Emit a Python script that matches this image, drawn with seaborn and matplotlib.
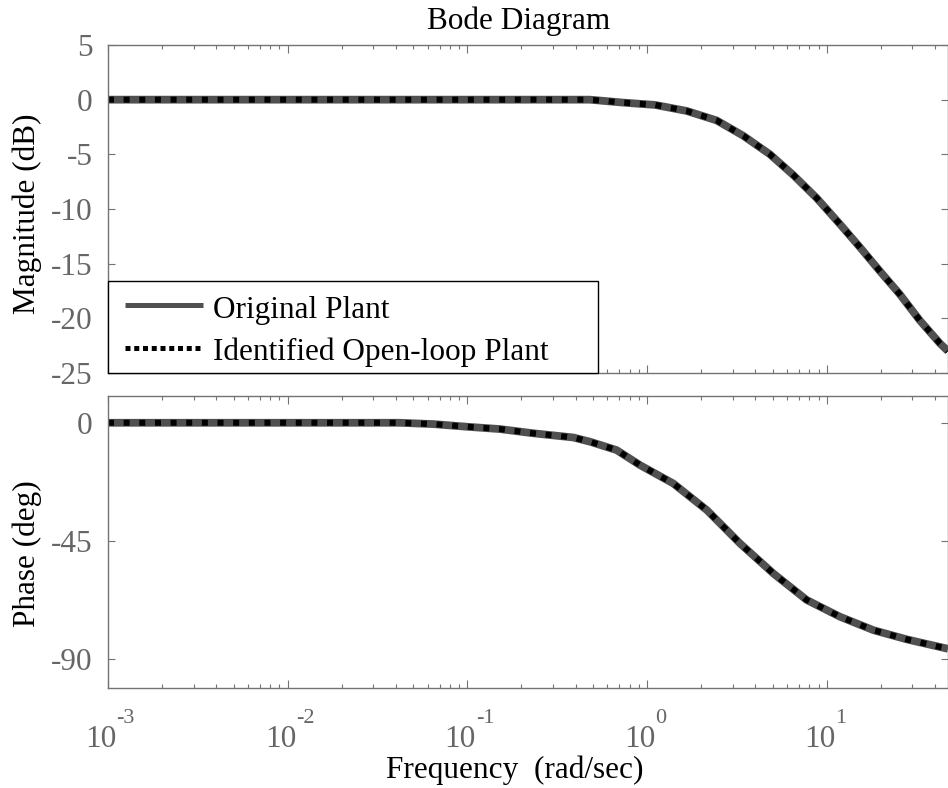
import numpy as np
import pandas as pd
import matplotlib
matplotlib.use("Agg")
import matplotlib.pyplot as plt
import seaborn as sns
from matplotlib.ticker import LogLocator, NullFormatter, FixedLocator, FixedFormatter
from matplotlib.transforms import ScaledTranslation
from matplotlib.patches import Rectangle
from matplotlib.lines import Line2D

# ---- frequency response samples (rad/sec, dB, deg) ----
mag_freq = [0.001, 0.01, 0.1, 0.48, 0.738, 1.107, 1.66, 2.44, 3.43, 4.83,
            6.52, 8.79, 11.86, 15.3, 19.8, 25.5, 33.0, 42.7, 47.3]
mag_original = [0, 0, 0, 0, -0.27, -0.48, -1.03, -1.9, -3.3, -5.0,
                -6.9, -9.0, -11.4, -13.5, -15.7, -17.8, -20.2, -22.3, -23.0]
mag_identified = [0, 0, 0, 0, -0.27, -0.48, -1.03, -1.9, -3.3, -5.0,
                  -6.9, -9.0, -11.4, -13.5, -15.7, -17.8, -20.2, -22.3, -23.0]

phase_freq = [0.001, 0.01, 0.042, 0.0646, 0.099, 0.152, 0.233, 0.389, 0.481,
              0.677, 0.913, 1.40, 2.15, 3.29, 5.04, 7.73, 11.86, 18.2, 27.9, 47.3]
phase_original = [0, 0, 0, -0.5, -1.5, -2.4, -4.0, -5.6, -7.2,
                  -10.4, -16.1, -23.1, -33.2, -45.9, -57.3, -67.4, -73.8,
                  -78.9, -82.4, -86.0]
phase_identified = [0, 0, 0, -0.5, -1.5, -2.4, -4.0, -5.6, -7.2,
                    -10.4, -16.1, -23.1, -33.2, -45.9, -57.3, -67.4, -73.8,
                    -78.9, -82.4, -86.0]

series_names = ["Original Plant", "Identified Open-loop Plant"]
mag_ticks = [5, 0, -5, -10, -15, -20, -25]
phase_ticks = [0, -45, -90]
decade_exponents = [-3, -2, -1, 0, 1]

# ---- style ----
sns.set_style("ticks")
plt.rcParams["font.family"] = ["Liberation Serif", "DejaVu Serif"]
plt.rcParams["axes.unicode_minus"] = False

W, H = 948, 788
fig = plt.figure(figsize=(W / 100, H / 100), dpi=100)


def box(left, top, right, bottom):
    return [left / W, 1 - bottom / H, (right - left) / W, (bottom - top) / H]


ax_mag = fig.add_axes(box(108, 45, 948, 373))
ax_ph = fig.add_axes(box(108, 395.7, 948, 688))

GREY_LINE = "#505050"
AXIS_GREY = "0.45"
TEXT_GREY = "0.4"
FS = 22.5

mag_df = pd.DataFrame({
    "Frequency": mag_freq * 2,
    "Magnitude": mag_original + mag_identified,
    "Plant": [series_names[0]] * len(mag_freq) + [series_names[1]] * len(mag_freq),
})
phase_df = pd.DataFrame({
    "Frequency": phase_freq * 2,
    "Phase": phase_original + phase_identified,
    "Plant": [series_names[0]] * len(phase_freq) + [series_names[1]] * len(phase_freq),
})


def draw_pair(ax, df, ycol):
    orig = df[df["Plant"] == series_names[0]]
    ident = df[df["Plant"] == series_names[1]]
    sns.lineplot(data=orig, x="Frequency", y=ycol, ax=ax, color=GREY_LINE,
                 linewidth=5.6, estimator=None, legend=False)
    sns.lineplot(data=ident, x="Frequency", y=ycol, ax=ax, color="black",
                 linewidth=4.3, estimator=None, legend=False)
    dotted = ax.lines[-1]
    dotted.set_linestyle((0, (1.0, 1.62)))
    dotted.set_dash_capstyle("butt")
    ax.lines[-2].set_solid_capstyle("butt")
    for ln in ax.lines[-2:]:
        ln.set_solid_joinstyle("round")
        ln.set_dash_joinstyle("round")


draw_pair(ax_mag, mag_df, "Magnitude")
draw_pair(ax_ph, phase_df, "Phase")

for ax in (ax_mag, ax_ph):
    ax.set_xscale("log")
    ax.set_xlim(1e-3, 47.3)
    ax.xaxis.set_major_locator(LogLocator(base=10, numticks=12))
    ax.xaxis.set_minor_locator(LogLocator(base=10, subs=np.arange(2, 10), numticks=12))
    ax.xaxis.set_major_formatter(NullFormatter())
    ax.xaxis.set_minor_formatter(NullFormatter())
    ax.set_xlabel("")
    ax.set_ylabel("")
    for sp in ax.spines.values():
        sp.set_visible(True)
        sp.set_color(AXIS_GREY)
        sp.set_linewidth(1.0)
    ax.tick_params(which="both", direction="in", top=True, right=True,
                   bottom=True, left=True, colors=AXIS_GREY, labelcolor=TEXT_GREY,
                   labelsize=FS)
    ax.tick_params(axis="x", which="major", length=5.8, width=0.8)
    ax.tick_params(axis="x", which="minor", length=2.9, width=0.8)
    ax.tick_params(axis="y", which="major", length=5.0, width=0.8, pad=11)
    ax.tick_params(axis="y", which="minor", left=False, right=False)

ax_mag.set_ylim(-25, 5)
ax_mag.yaxis.set_major_locator(FixedLocator(mag_ticks))
ax_mag.yaxis.set_major_formatter(FixedFormatter([str(t) for t in mag_ticks]))

ax_ph.set_ylim(-100.9, 10.3)
ax_ph.yaxis.set_major_locator(FixedLocator(phase_ticks))
ax_ph.yaxis.set_major_formatter(FixedFormatter([str(t) for t in phase_ticks]))

# decade labels written as base with a raised exponent
shift = ScaledTranslation(0.085, 0, fig.dpi_scale_trans)
xtrans = ax_ph.get_xaxis_transform() + shift
for e in decade_exponents:
    ax_ph.text(10.0 ** e, -0.2018, "10", transform=xtrans, ha="right",
               va="baseline", fontsize=FS, color=TEXT_GREY, clip_on=False)
    ax_ph.text(10.0 ** e, -0.1208, str(e), transform=xtrans, ha="left",
               va="baseline", fontsize=16, color=TEXT_GREY, clip_on=False)

# titles and axis labels
fig.text(519 / W, 1 - 29 / H, "Bode Diagram", ha="center", va="baseline",
         fontsize=FS, color="black")
fig.text(515 / W, 1 - 778 / H, "Frequency  (rad/sec)", ha="center",
         va="baseline", fontsize=FS, color="black")
fig.text(27 / W, 1 - 214 / H, "Magnitude (dB)", rotation=90, ha="center",
         va="center", fontsize=FS, color="black")
fig.text(27 / W, 1 - 554 / H, "Phase (deg)", rotation=90, ha="center",
         va="center", fontsize=FS, color="black")

# legend box in the lower-left corner of the magnitude axes
def fx(px):
    return (px - 108) / 840


def fy(py):
    return (373 - py) / 328


ax_mag.add_patch(Rectangle((0, 0), fx(598), fy(281), transform=ax_mag.transAxes,
                           facecolor="white", edgecolor="black", linewidth=1.0,
                           zorder=5, clip_on=False))
ax_mag.add_line(Line2D([fx(125), fx(203)], [fy(304.5), fy(304.5)],
                       transform=ax_mag.transAxes, color=GREY_LINE, linewidth=3.6,
                       solid_capstyle="butt", zorder=6, clip_on=False))
ax_mag.add_line(Line2D([fx(125), fx(203)], [fy(347.7), fy(347.7)],
                       transform=ax_mag.transAxes, color="black", linewidth=3.6,
                       linestyle=(0, (1.0, 0.75)), dash_capstyle="butt",
                       zorder=6, clip_on=False))
ax_mag.text(fx(213), fy(318), series_names[0], transform=ax_mag.transAxes,
            ha="left", va="baseline", fontsize=FS, color="black", zorder=7)
ax_mag.text(fx(213), fy(360), series_names[1], transform=ax_mag.transAxes,
            ha="left", va="baseline", fontsize=FS, color="black", zorder=7)

fig.savefig("out.png", dpi=100)
